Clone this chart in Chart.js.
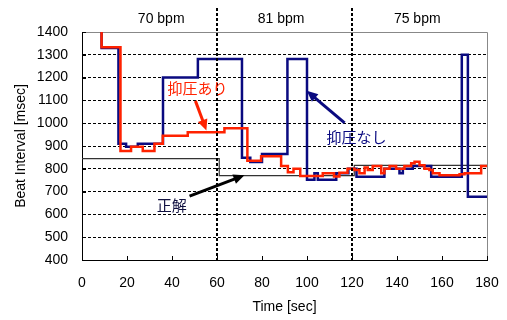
<!DOCTYPE html>
<html>
<head>
<meta charset="utf-8">
<script src="https://cdn.jsdelivr.net/npm/chart.js@4"></script>
<style>
  html, body { margin: 0; padding: 0; background: #fff; }
</style>
</head>
<body>
<canvas id="myChart" width="507" height="320"></canvas>
<script>
// step series: time where each value starts, and the value (msec)
const timeRed  = [6, 8.7, 17.1, 21.8, 27, 32.2, 35.9, 47, 63.3, 73.5, 79.6, 88.5, 91.5, 94, 97, 107, 112, 114.4, 118, 121.1,
                  123.3, 125.6, 127, 129.2, 133, 134.4, 136.7, 139.6, 143.3, 146.3, 147.8, 150, 152.2, 154.4, 155.9, 158.9, 167.8, 170, 177.4, 180];
const valueRed = [1500, 1333, 878, 897, 878, 910, 945, 960, 978, 835, 855, 812, 785, 800, 768, 780, 766, 783, 800, 795,
                  780, 806, 795, 812, 780, 800, 812, 800, 812, 824, 831, 816, 800, 795, 780, 772, 776, 780, 812, 812];

const timeBlue  = [6, 8.7, 16.2, 19.6, 24.8, 36, 51.5, 71.1, 74.8, 80, 91.3, 100, 103.3, 104.8, 113, 118.4, 122, 134.4, 141.1, 142.6,
                   147, 155.2, 168.8, 171.5, 180];
const valueBlue = [1500, 1330, 910, 897, 910, 1200, 1282, 848, 830, 865, 1282, 752, 780, 752, 780, 800, 765, 800, 780, 800,
                   812, 765, 1300, 677, 677];

const timeTruth  = [0, 61, 121, 180];
const valueTruth = [845, 770, 815, 815];

const sectionLabels  = ['70 bpm', '81 bpm', '75 bpm'];
const sectionCenters = [35.2, 88.5, 149];
const sectionBounds  = [60, 120];

const RED = '#ff2200';
const NAVY = '#0a0a80';
const FONT = '"Liberation Sans", Arial, sans-serif';

const toPoints = (ts, vs) => ts.map((t, i) => ({x: t, y: vs[i]}));

// draw a straight arrow with a filled head, ends given in data units
function arrow(ctx, xs, ys, x1, y1, x2, y2, color) {
  const p1x = xs.getPixelForValue(x1), p1y = ys.getPixelForValue(y1);
  const p2x = xs.getPixelForValue(x2), p2y = ys.getPixelForValue(y2);
  const ang = Math.atan2(p2y - p1y, p2x - p1x);
  const head = 11, half = 5;
  ctx.save();
  ctx.strokeStyle = color;
  ctx.fillStyle = color;
  ctx.lineWidth = 3;
  ctx.beginPath();
  ctx.moveTo(p1x, p1y);
  ctx.lineTo(p2x - Math.cos(ang) * head * 0.8, p2y - Math.sin(ang) * head * 0.8);
  ctx.stroke();
  ctx.beginPath();
  ctx.moveTo(p2x, p2y);
  ctx.lineTo(p2x - Math.cos(ang) * head + Math.sin(ang) * half, p2y - Math.sin(ang) * head - Math.cos(ang) * half);
  ctx.lineTo(p2x - Math.cos(ang) * head - Math.sin(ang) * half, p2y - Math.sin(ang) * head + Math.cos(ang) * half);
  ctx.closePath();
  ctx.fill();
  ctx.restore();
}

const decor = {
  id: 'decor',
  beforeDatasetsDraw(chart) {
    const {ctx, chartArea: a} = chart;
    ctx.save();
    ctx.strokeStyle = '#888';
    ctx.lineWidth = 1;
    ctx.beginPath();
    ctx.moveTo(a.left, Math.round(a.top) + 0.5);
    ctx.lineTo(Math.round(a.right) + 0.5, Math.round(a.top) + 0.5);
    ctx.lineTo(Math.round(a.right) + 0.5, a.bottom);
    ctx.stroke();
    ctx.restore();
  },
  afterDatasetsDraw(chart) {
    const {ctx, chartArea: a, scales: {x, y}} = chart;
    ctx.save();

    // inward tick marks
    ctx.strokeStyle = '#000';
    ctx.lineWidth = 1;
    ctx.beginPath();
    x.ticks.forEach(t => {
      const px = Math.round(x.getPixelForValue(t.value)) + 0.5;
      ctx.moveTo(px, a.bottom);
      ctx.lineTo(px, a.bottom - 4);
    });
    y.ticks.forEach(t => {
      const py = Math.round(y.getPixelForValue(t.value)) + 0.5;
      ctx.moveTo(a.left, py);
      ctx.lineTo(a.left + 4, py);
    });
    ctx.stroke();

    // section boundaries
    ctx.setLineDash([3, 2]);
    ctx.lineWidth = 2;
    ctx.beginPath();
    sectionBounds.forEach(v => {
      const px = Math.round(x.getPixelForValue(v));
      ctx.moveTo(px, 8);
      ctx.lineTo(px, a.bottom);
    });
    ctx.stroke();
    ctx.setLineDash([]);

    // section labels
    ctx.fillStyle = '#000';
    ctx.font = '14px ' + FONT;
    ctx.textAlign = 'center';
    ctx.textBaseline = 'middle';
    sectionLabels.forEach((s, i) => ctx.fillText(s, x.getPixelForValue(sectionCenters[i]), a.top - 13));

    // annotations
    ctx.font = '15px "Noto Sans CJK JP", sans-serif';
    ctx.fillStyle = RED;
    ctx.fillText('抑圧あり', x.getPixelForValue(51.3), y.getPixelForValue(1151));
    arrow(ctx, x, y, 50.4, 1098, 55.3, 968, RED);

    ctx.fillStyle = NAVY;
    ctx.fillText('抑圧なし', x.getPixelForValue(122), y.getPixelForValue(940));
    arrow(ctx, x, y, 116.7, 1001, 99.9, 1142, NAVY);

    ctx.fillStyle = '#101040';
    ctx.fillText('正解', x.getPixelForValue(39.9), y.getPixelForValue(640));
    arrow(ctx, x, y, 47.8, 680, 72.2, 772, '#000');

    ctx.restore();
  }
};

const ctx = document.getElementById('myChart').getContext('2d');
new Chart(ctx, {
  type: 'line',
  data: {
    datasets: [
      {label: '抑圧あり', data: toPoints(timeRed, valueRed), borderColor: RED, borderWidth: 2.5},
      {label: '抑圧なし', data: toPoints(timeBlue, valueBlue), borderColor: NAVY, borderWidth: 2.5},
      {label: '正解', data: toPoints(timeTruth, valueTruth), borderColor: '#333', borderWidth: 1.2}
    ]
  },
  options: {
    responsive: false,
    devicePixelRatio: 1,
    animation: false,
    datasets: {
      line: {stepped: true, pointRadius: 0, fill: false, tension: 0, clip: 0, borderJoinStyle: 'miter'}
    },
    layout: {padding: {left: 13, top: 32, right: 20, bottom: 0}},
    plugins: {legend: {display: false}, tooltip: {enabled: false}},
    scales: {
      x: {
        type: 'linear', min: 0, max: 180,
        ticks: {stepSize: 20, color: '#000', padding: 15, maxRotation: 0, font: {family: FONT, size: 14}},
        grid: {display: false, drawTicks: false},
        border: {color: '#000', width: 1},
        title: {display: true, text: 'Time [sec]', color: '#000', padding: {top: 0, bottom: 4},
                font: {family: FONT, size: 14}},
        afterFit: s => { s.height = 60; s.paddingLeft = 0; s.paddingRight = 0; }
      },
      y: {
        min: 400, max: 1400,
        ticks: {stepSize: 100, color: '#000', padding: 14, font: {family: FONT, size: 14},
                callback: v => String(v)},
        grid: {drawTicks: false, lineWidth: 1,
               color: c => (c.tick.value === 400 || c.tick.value === 1400) ? 'rgba(0,0,0,0)' : '#000'},
        border: {color: '#000', width: 1, dash: [3, 2]},
        title: {display: true, text: 'Beat Interval [msec]', color: '#000', padding: {top: 0, bottom: 0},
                font: {family: FONT, size: 14}},
        afterFit: s => { s.width = 69; }
      }
    }
  },
  plugins: [decor]
});
</script>
</body>
</html>
